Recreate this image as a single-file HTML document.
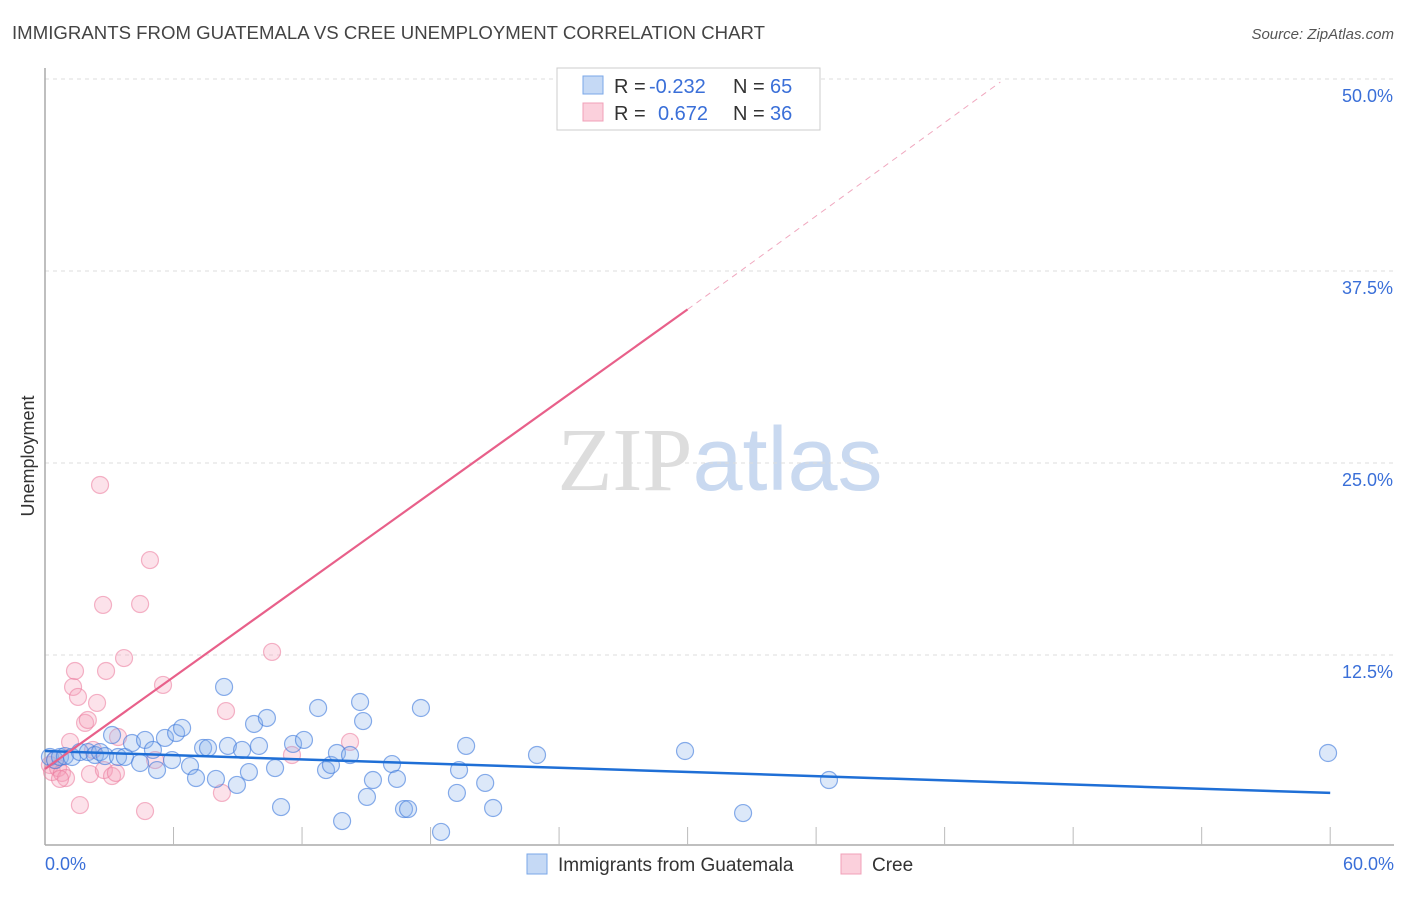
<!DOCTYPE html>
<html><head><meta charset="utf-8"><style>
body{margin:0;background:#fff;font-family:"Liberation Sans",sans-serif}
svg text{font-family:"Liberation Sans",sans-serif}
</style></head><body>
<svg id="chart" width="1406" height="892" xmlns="http://www.w3.org/2000/svg">
<text x="12" y="39" font-size="18.6" fill="#444" textLength="753">IMMIGRANTS FROM GUATEMALA VS CREE UNEMPLOYMENT CORRELATION CHART</text>
<text x="1394" y="39" font-size="15" fill="#555" text-anchor="end" font-style="italic">Source: ZipAtlas.com</text>
<text x="720" y="490" font-size="90" text-anchor="middle"><tspan fill="#ddd" font-family="Liberation Serif">ZIP</tspan><tspan fill="#c9d9f0">atlas</tspan></text>
<g id="grid"></g>
<g id="axes"></g>
<g id="pts"></g>
<g id="trend"></g>
<text transform="translate(34,456) rotate(-90)" font-size="18" fill="#333" text-anchor="middle">Unemployment</text>
<g>
<rect x="557" y="68" width="263" height="62" fill="#fff" stroke="#ccc"/>
<rect x="583" y="76" width="20" height="18" fill="#c5d9f5" stroke="#7aa7e8"/>
<rect x="583" y="103" width="20" height="18" fill="#fbd0dc" stroke="#f0a0b8"/>
<text x="614" y="93" font-size="20" fill="#333">R =</text>
<text x="649" y="93" font-size="20" fill="#3a6fd8">-0.232</text>
<text x="733" y="93" font-size="20" fill="#333">N =</text>
<text x="770" y="93" font-size="20" fill="#3a6fd8">65</text>
<text x="614" y="120" font-size="20" fill="#333">R =</text>
<text x="658" y="120" font-size="20" fill="#3a6fd8">0.672</text>
<text x="733" y="120" font-size="20" fill="#333">N =</text>
<text x="770" y="120" font-size="20" fill="#3a6fd8">36</text>
</g>
<g>
<rect x="527" y="854" width="20" height="20" fill="#c5d9f5" stroke="#7aa7e8"/>
<text x="558" y="871" font-size="19" fill="#333">Immigrants from Guatemala</text>
<rect x="841" y="854" width="20" height="20" fill="#fbd0dc" stroke="#f0a0b8"/>
<text x="872" y="871" font-size="19" fill="#333">Cree</text>
</g>
</svg>
<script>
const yTicks=[12.5,25,37.5,50];
const yTickLabels=["12.5%","25.0%","37.5%","50.0%"];
const xTickLabels=["0.0%","60.0%"];
const blueX=[0.23,0.47,0.7,0.93,1.26,1.63,2.0,2.33,2.57,2.8,3.13,3.41,3.73,4.06,4.44,4.67,5.04,5.23,5.6,5.93,6.12,6.4,6.77,7.05,7.38,7.61,7.98,8.36,8.54,8.96,9.2,9.52,9.76,9.99,10.36,10.74,11.02,11.58,12.09,12.75,13.12,13.35,13.63,13.87,14.24,14.71,14.85,15.03,15.31,16.2,16.43,16.76,16.95,17.55,18.49,19.23,19.33,19.66,20.55,20.92,22.97,29.88,32.59,36.6,59.9];
const blueY=[5.86,5.66,5.86,5.92,5.86,6.18,6.18,5.99,6.18,5.92,7.29,5.86,5.86,6.77,5.47,6.97,6.32,5.01,7.1,5.66,7.42,7.75,5.27,4.49,6.45,6.45,4.43,10.42,6.58,4.04,6.32,4.88,8.01,6.58,8.4,5.14,2.6,6.71,6.97,9.05,5.01,5.34,6.12,1.69,5.99,9.44,8.2,3.26,4.36,5.4,4.43,2.47,2.47,9.05,0.98,3.52,5.01,6.58,4.17,2.54,5.99,6.25,2.21,4.36,6.12];
const pinkX=[0.23,0.33,0.47,0.61,0.79,0.98,1.17,1.31,1.4,1.54,1.63,1.87,2.0,2.1,2.24,2.43,2.57,2.71,2.85,2.75,3.13,3.31,3.41,3.69,4.44,4.67,4.9,5.14,5.51,8.26,8.45,10.6,11.53,14.24,28.9,0.7];
const pinkY=[5.34,4.88,5.66,5.14,4.82,4.49,6.84,10.42,11.46,9.77,2.73,8.08,8.27,4.75,6.32,9.38,23.57,15.76,11.46,5.01,4.62,4.82,7.16,12.3,15.82,2.34,18.68,5.66,10.55,3.52,8.85,12.7,5.99,6.84,47.5,4.43];
const blueTrend=[[0,6.25],[60,3.52]];
const pinkTrend=[[0,5.08],[30,35.0]];
const pinkDash=[[30,35.0],[44.6,49.8]];
const X=v=>45+v*21.42, Y=v=>847-v*15.36;
const NS="http://www.w3.org/2000/svg";
function mk(tag,attrs,parent){const e=document.createElementNS(NS,tag);for(const k in attrs)e.setAttribute(k,attrs[k]);document.getElementById(parent).appendChild(e);return e;}
yTicks.forEach((t,i)=>{
 const g=mk('line',{x1:45,x2:1394,y1:Y(t),y2:Y(t),stroke:'#ddd','stroke-dasharray':'4,4'},'grid');
 
 
 const l=mk('text',{x:1393,y:Y(t)+23,'font-size':18,fill:'#3a6fd8','text-anchor':'end'},'grid');
 l.textContent=yTickLabels[i];
 
 
});
const ax=mk('line',{x1:45,x2:1394,y1:845,y2:845,stroke:'#aaa','stroke-width':1.5},'axes');


const ay=mk('line',{x1:45,x2:45,y1:68,y2:845,stroke:'#aaa','stroke-width':1.5},'axes');


for(let i=1;i<=10;i++){
 const t=mk('line',{x1:X(i*6),x2:X(i*6),y1:827,y2:845,stroke:'#bbb'},'axes');
 
 
}
[[0,'start',45],[1,'end',1394]].forEach(([i,a,x])=>{
 const l=mk('text',{x:x,y:870,'font-size':18,fill:'#3a6fd8','text-anchor':a},'axes');
 l.textContent=xTickLabels[i];
 
 
});
pinkX.forEach((v,i)=>{
 const c=mk('circle',{cx:X(v),cy:Y(pinkY[i]),r:8.5,fill:'rgba(245,160,185,0.3)',stroke:'rgba(235,120,155,0.55)','stroke-width':1.2},'pts');
 
 
});
blueX.forEach((v,i)=>{
 const c=mk('circle',{cx:X(v),cy:Y(blueY[i]),r:8.5,fill:'rgba(140,180,235,0.3)',stroke:'rgba(60,120,220,0.6)','stroke-width':1.2},'pts');
 
 
});
const bt=mk('line',{x1:X(blueTrend[0][0]),y1:Y(blueTrend[0][1]),x2:X(blueTrend[1][0]),y2:Y(blueTrend[1][1]),stroke:'#1f6fd6','stroke-width':2.5},'trend');


const pt=mk('line',{x1:X(pinkTrend[0][0]),y1:Y(pinkTrend[0][1]),x2:X(pinkTrend[1][0]),y2:Y(pinkTrend[1][1]),stroke:'#e8608a','stroke-width':2.2},'trend');


const pd=mk('line',{x1:X(pinkDash[0][0]),y1:Y(pinkDash[0][1]),x2:X(pinkDash[1][0]),y2:Y(pinkDash[1][1]),stroke:'#f0a8bf','stroke-width':1,'stroke-dasharray':'6,5'},'trend');


</script>
</body></html>
